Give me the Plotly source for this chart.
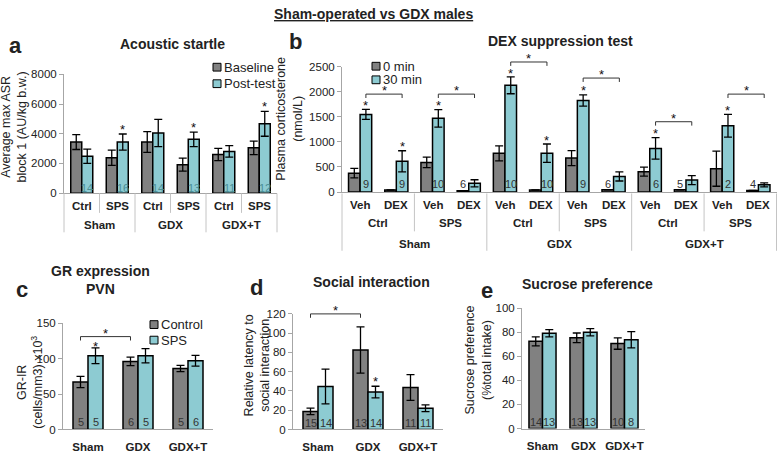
import plotly.graph_objects as go

W, H = 777, 453
FONT = "Liberation Sans, Arial, sans-serif"
GRAY = "#818181"
TEAL = "#8dcbd2"
AXIS = "#a6a6a6"
SEP = "#c4c4c4"
TXT = "#222222"
NTXT = "#333333"

# ---------------- data ----------------
groups = ["Sham", "GDX", "GDX+T"]

# (a) Acoustic startle
a_conditions = ["Ctrl", "SPS", "Ctrl", "SPS", "Ctrl", "SPS"]
a_baseline = [3440, 2380, 3440, 1920, 2600, 3050]
a_baseline_err = [500, 510, 700, 435, 410, 450]
a_post = [2480, 3440, 4050, 3620, 2810, 4670]
a_post_err = [480, 540, 920, 490, 390, 840]
a_n = ["14", "16", "14", "13", "11", "12"]
a_star_post = [False, True, False, True, False, True]

# (b) DEX suppression test
b_conditions = ["Ctrl", "SPS", "Ctrl", "SPS", "Ctrl", "SPS"]
b_treatments = ["Veh", "DEX"] * 6
b_0min = [375, 40, 590, 25, 770, 40, 675, 45, 405, 45, 465, 30]
b_0min_err = [95, 0, 105, 0, 148, 0, 150, 0, 90, 0, 350, 0]
b_30min = [1545, 612, 1468, 174, 2125, 773, 1822, 309, 869, 238, 1320, 142]
b_30min_err = [100, 210, 175, 70, 168, 183, 113, 90, 215, 90, 225, 40]
b_n = ["9", "9", "10", "6", "10", "10", "9", "6", "6", "5", "2", "4"]
b_n_on_30 = [True, True, True, False, True, True, True, False, True, False, True, False]
b_star_30 = [True, True, True, False, True, True, True, False, True, False, True, False]
b_bracket_y = [1950, 1950, 2590, 2270, 1400, 1950]

# (c) GR expression PVN
c_control = [67, 96, 86]
c_control_err = [8, 6, 4.5]
c_sps = [104, 104, 97]
c_sps_err = [11, 10, 7.5]
c_n_control = ["5", "6", "5"]
c_n_sps = ["5", "5", "6"]
c_star_sps = [True, False, False]
c_bracket_y = 131

# (d) Social interaction
d_control = [18.8, 82.5, 43.6]
d_control_err = [3.3, 24, 13.4]
d_sps = [44.6, 38.9, 22.1]
d_sps_err = [18, 6, 3.5]
d_n_control = ["15", "13", "11"]
d_n_sps = ["14", "14", "11"]
d_star_sps = [False, True, False]
d_bracket_y = 120

# (e) Sucrose preference
e_control = [72.4, 75.3, 70.5]
e_control_err = [3.7, 4, 4.7]
e_sps = [79.1, 79.9, 73.7]
e_sps_err = [3, 3, 6.7]
e_n_control = ["14", "13", "10"]
e_n_sps = ["13", "13", "8"]

# ---------------- geometry (pixel boxes of each plot area) ----------------
P = {
    "a": dict(ax="", x0=64, x1=277, y0=192.7, y1=70.3, ymax=8000, dt=2000, n=6, bw=0.31),
    "b": dict(ax="2", x0=342, x1=776.5, y0=191.5, y1=62.3, ymax=2500, dt=500, n=12, bw=0.32),
    "c": dict(ax="3", x0=63, x1=213, y0=436, y1=326.5, ymax=150, dt=50, n=3, bw=0.3),
    "d": dict(ax="4", x0=293, x1=443, y0=436, y1=317, ymax=120, dt=20, n=3, bw=0.3),
    "e": dict(ax="5", x0=522, x1=645, y0=435, y1=311, ymax=100, dt=20, n=3, bw=0.33),
}


def xpix(p, xv):
    g = P[p]
    return g["x0"] + (xv + 0.5) / g["n"] * (g["x1"] - g["x0"])


def ypix(p, yv):
    g = P[p]
    return g["y0"] - yv / g["ymax"] * (g["y0"] - g["y1"])


annotations = []
shapes = []


def ann(x, y, text, size=11, bold=False, color=TXT, xanchor="center",
        yanchor="middle", angle=0):
    if bold:
        text = "<b>" + text + "</b>"
    annotations.append(dict(
        x=x / W, y=1 - y / H, xref="paper", yref="paper", text=text,
        showarrow=False, xanchor=xanchor, yanchor=yanchor, textangle=angle,
        font=dict(family=FONT, size=size, color=color), borderpad=0))


def line(xa, ya, xb, yb, color=SEP, width=1):
    shapes.append(dict(type="line", xref="paper", yref="paper",
                       x0=xa / W, y0=1 - ya / H, x1=xb / W, y1=1 - yb / H,
                       line=dict(color=color, width=width)))


def bracket(p, xl, xr, yv, leg=4):
    yp = ypix(p, yv)
    xlp, xrp = xpix(p, xl), xpix(p, xr)
    path = "M {} {} L {} {} L {} {} L {} {}".format(
        xlp / W, 1 - (yp + leg) / H, xlp / W, 1 - yp / H,
        xrp / W, 1 - yp / H, xrp / W, 1 - (yp + leg) / H)
    shapes.append(dict(type="path", xref="paper", yref="paper", path=path,
                       line=dict(color="#333333", width=1)))
    star(xpix(p, (xl + xr) / 2), yp - 6.5)


def star(xp, yglyph):
    ann(xp, yglyph + 3, "*", size=13, color="#111111")


def legend_item(x, y, color, text):
    shapes.append(dict(type="rect", xref="paper", yref="paper",
                       x0=x / W, x1=(x + 8) / W, y0=1 - (y + 4) / H, y1=1 - (y - 4) / H,
                       fillcolor=color, line=dict(color="black", width=1)))
    ann(x + 9.5, y, text, size=13, xanchor="left")


fig = go.Figure()


def add_pair(p, base, base_err, post, post_err):
    g = P[p]
    xs = list(range(g["n"]))
    for vals, errs, col, off in ((base, base_err, GRAY, -g["bw"]), (post, post_err, TEAL, 0)):
        fig.add_trace(go.Bar(
            x=xs, y=vals, width=g["bw"], offset=off,
            marker=dict(color=col, line=dict(color="black", width=1.5)),
            error_y=dict(type="data", array=errs, color="black", thickness=1.3, width=4),
            xaxis="x" + g["ax"], yaxis="y" + g["ax"], showlegend=False,
            hoverinfo="skip"))


add_pair("a", a_baseline, a_baseline_err, a_post, a_post_err)
add_pair("b", b_0min, b_0min_err, b_30min, b_30min_err)
add_pair("c", c_control, c_control_err, c_sps, c_sps_err)
add_pair("d", d_control, d_control_err, d_sps, d_sps_err)
add_pair("e", e_control, e_control_err, e_sps, e_sps_err)

layout = dict(width=W, height=H, margin=dict(l=0, r=0, t=0, b=0, pad=0),
              autosize=False, paper_bgcolor="white", plot_bgcolor="white",
              barmode="overlay", showlegend=False,
              font=dict(family=FONT, color=TXT))

for p, g in P.items():
    xk = "xaxis" + g["ax"]
    yk = "yaxis" + g["ax"]
    show_cat = p in ("c", "d", "e")
    xa = dict(
        domain=[g["x0"] / W, g["x1"] / W], range=[-0.5, g["n"] - 0.5],
        anchor="y" + g["ax"], showline=True, linecolor=AXIS, linewidth=1,
        ticks="", showgrid=False, zeroline=False, fixedrange=True,
        showticklabels=show_cat,
        tickfont=dict(family=FONT, size=11.5, color=TXT))
    if show_cat:
        xa.update(tickvals=list(range(3)),
                  ticktext=["<b>" + t + "</b>" for t in groups],
                  ticklabelstandoff=7)
    layout[xk] = xa
    layout[yk] = dict(
        domain=[1 - g["y0"] / H, 1 - g["y1"] / H], range=[0, g["ymax"]],
        anchor="x" + g["ax"], showline=True, linecolor=AXIS, linewidth=1,
        ticks="outside", ticklen=4, tickcolor=AXIS, tickwidth=1,
        tickvals=[g["dt"] * k for k in range(int(g["ymax"] / g["dt"]) + 1)],
        showgrid=False, zeroline=False, fixedrange=True,
        tickfont=dict(family=FONT, size=11.5, color=TXT))

# ---------- hierarchical category labels / separators: panel a ----------
ga = P["a"]
cw_a = (ga["x1"] - ga["x0"]) / ga["n"]
for i, c in enumerate(a_conditions):
    ann(xpix("a", i), 206, c, size=11.5, bold=True)
for j, gname in enumerate(groups):
    ann(xpix("a", 2 * j + 0.5), 225.5, gname, size=11.5, bold=True)
for k in range(ga["n"] + 1):
    xk = ga["x0"] + k * cw_a
    line(xk, 193, xk, 233 if k % 2 == 0 else 213)

# ---------- panel b ----------
gb = P["b"]
cw_b = (gb["x1"] - gb["x0"]) / gb["n"]
for i, t in enumerate(b_treatments):
    ann(xpix("b", i), 205, t, size=11.5, bold=True)
for j, c in enumerate(b_conditions):
    ann(xpix("b", 2 * j + 0.5), 223, c, size=11.5, bold=True)
for j, gname in enumerate(groups):
    ann(xpix("b", 4 * j + 1.5), 245, gname, size=11.5, bold=True)
for k in range(0, gb["n"] + 1, 2):
    xk = min(gb["x0"] + k * cw_b, W - 0.5)
    line(xk, 193, xk, 252 if k % 4 == 0 else 232)

# ---------- N labels ----------
for i, n in enumerate(a_n):
    ann(xpix("a", i + ga["bw"] / 2), 187, n, size=11, color="#4b8e95")
for i, n in enumerate(b_n):
    off = gb["bw"] / 2 if b_n_on_30[i] else -gb["bw"] / 2
    ann(xpix("b", i + off), 183, n, size=11, color=NTXT)
for p, nc, ns, yy in (("c", c_n_control, c_n_sps, 428), ("d", d_n_control, d_n_sps, 429),
                      ("e", e_n_control, e_n_sps, 428)):
    bw = P[p]["bw"]
    for i in range(3):
        ann(xpix(p, i - bw / 2), yy, nc[i], size=11, color=NTXT)
        ann(xpix(p, i + bw / 2), yy, ns[i], size=11, color=NTXT)

# ---------- significance stars & brackets ----------
for i, s in enumerate(a_star_post):
    if s:
        star(xpix("a", i + ga["bw"] / 2), ypix("a", a_post[i] + a_post_err[i]) - 7.5)
for i, s in enumerate(b_star_30):
    if s:
        star(xpix("b", i + gb["bw"] / 2), ypix("b", b_30min[i] + b_30min_err[i]) - 7)
for j, yv in enumerate(b_bracket_y):
    bracket("b", 2 * j + gb["bw"] / 2, 2 * j + 1 + gb["bw"] / 2, yv)
for i, s in enumerate(c_star_sps):
    if s:
        star(xpix("c", i + P["c"]["bw"] / 2), ypix("c", c_sps[i] + c_sps_err[i]) - 5)
bracket("c", -P["c"]["bw"] / 2, 1 - P["c"]["bw"] / 2, c_bracket_y)
for i, s in enumerate(d_star_sps):
    if s:
        star(xpix("d", i + P["d"]["bw"] / 2), ypix("d", d_sps[i] + d_sps_err[i]) - 7.5)
bracket("d", -P["d"]["bw"] / 2, 1 - P["d"]["bw"] / 2, d_bracket_y)

# ---------- legends ----------
legend_item(213, 63, GRAY, "Baseline")
legend_item(213, 80, TEAL, "Post-test")
legend_item(372, 62, GRAY, "0 min")
legend_item(372, 76, TEAL, "30 min")
legend_item(150, 328, GRAY, "Control")
legend_item(150, 344, TEAL, "SPS")

# ---------- titles, panel letters, axis titles ----------
ann(373, 8, "<u>Sham-operated vs GDX males</u>", size=14, bold=True)
ann(172, 39, "Acoustic startle", size=14, bold=True)
ann(560, 36, "DEX suppression test", size=14, bold=True)
ann(100, 282, "GR expression<br>PVN", size=14, bold=True)
ann(371, 284, "Social interaction", size=14, bold=True)
ann(587, 286, "Sucrose preference", size=14, bold=True)

ann(15, 41, "a", size=22, bold=True)
ann(295, 37, "b", size=22, bold=True)
ann(22, 292, "c", size=22, bold=True)
ann(256, 290, "d", size=22, bold=True)
ann(487, 293, "e", size=22, bold=True)

ann(14, 125, "Average max ASR<br>block 1 (AU/kg b.w.)", size=12.5, angle=-90)
ann(289, 116, "Plasma corticosterone<br>(nmol/L)", size=12.5, angle=-90)
ann(30, 388, "GR-IR<br>(cells/mm3) x10<sup>3</sup>", size=12.5, angle=-90)
ann(257, 370, "Relative latency to<br>social interaction", size=12.5, angle=-90)
ann(478, 365, "Sucrose preference<br>(%total intake)", size=12.5, angle=-90)

layout["annotations"] = annotations
layout["shapes"] = shapes
fig.update_layout(**layout)
fig.write_html("out.html",
               config={"displayModeBar": False},
               post_script="document.body.style.margin='0px';"
                           "document.body.style.overflow='hidden';")
